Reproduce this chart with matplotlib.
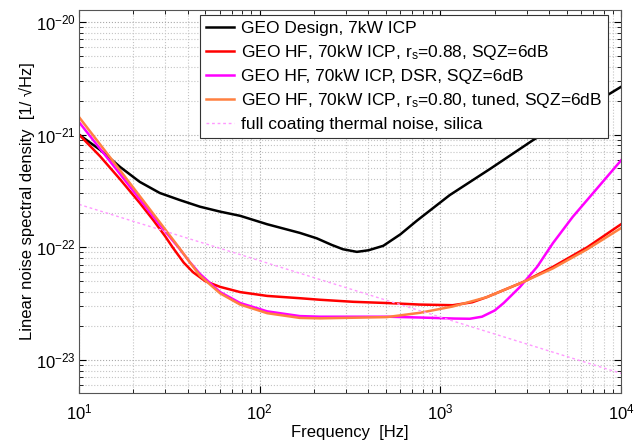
import matplotlib
matplotlib.use("Agg")
from matplotlib import pyplot as plt
from matplotlib import ticker
import numpy as np

plt.rcParams['font.family'] = ['Liberation Sans', 'DejaVu Sans']
plt.rcParams['mathtext.fontset'] = 'custom'
plt.rcParams['mathtext.rm'] = 'Liberation Sans'
plt.rcParams['mathtext.it'] = 'Liberation Sans:italic'

# GEO Design, 7kW ICP
f_geo = [10, 13.1, 16.9, 21.7, 28, 36.2, 46.7, 60.4, 78, 110, 167, 207, 250, 289, 345, 400, 483,
         600, 741, 1126, 1900, 3250, 10000]
h_geo = [1.0e-21, 7.3e-22, 5.15e-22, 3.8e-22, 3.03e-22, 2.62e-22, 2.29e-22, 2.07e-22, 1.9e-22,
         1.6e-22, 1.34e-22, 1.2e-22, 1.05e-22, 9.6e-23, 9.1e-23, 9.4e-23, 1.03e-22,
         1.3e-22, 1.72e-22, 2.9e-22, 5.0e-22, 8.9e-22, 2.65e-21]

# GEO HF, rs=0.88
f_r88 = [10, 13.1, 16.9, 21.7, 25.7, 30, 33.1, 38, 42.8, 50, 60.4, 78, 110, 167, 216, 330, 505,
         770, 1170, 1500, 1800, 2860, 4200, 6500, 10000]
h_r88 = [1.0e-21, 6.4e-22, 4.0e-22, 2.47e-22, 1.75e-22, 1.25e-22, 9.9e-23, 7.3e-23, 6.0e-23,
         5.0e-23, 4.45e-23, 4.0e-23, 3.7e-23, 3.53e-23, 3.42e-23, 3.28e-23, 3.2e-23, 3.1e-23,
         3.06e-23, 3.25e-23, 3.6e-23, 4.9e-23, 6.7e-23, 1.0e-22, 1.6e-22]

# GEO HF, DSR
f_dsr = [10, 16.9, 27.4, 36, 41, 46.7, 60.4, 78, 110, 167, 216, 505, 770, 1200, 1455, 1700, 2000,
         2240, 2760, 3430, 4200, 5400, 10000]
h_dsr = [1.29e-21, 4.45e-22, 1.65e-22, 9.7e-23, 7.4e-23, 5.8e-23, 4.0e-23, 3.2e-23, 2.7e-23,
         2.45e-23, 2.42e-23, 2.42e-23, 2.38e-23, 2.33e-23, 2.32e-23, 2.42e-23, 2.75e-23,
         3.2e-23, 4.45e-23, 6.7e-23, 1.09e-22, 1.86e-22, 5.9e-22]

# GEO HF, rs=0.80, tuned
f_r80 = [10, 16.9, 27.4, 36, 41.2, 46.7, 60.4, 78, 110, 167, 216, 505, 770, 1170, 1800, 2860,
         4200, 6500, 10000]
h_r80 = [1.43e-21, 4.8e-22, 1.74e-22, 9.8e-23, 7.3e-23, 5.6e-23, 3.9e-23, 3.1e-23, 2.6e-23,
         2.36e-23, 2.34e-23, 2.4e-23, 2.62e-23, 2.98e-23, 3.6e-23, 4.9e-23, 6.5e-23, 9.6e-23,
         1.48e-22]

# coating thermal noise
f_ctn = [10, 100, 1000, 10000]
h_ctn = [2.4e-22, 7.6e-23, 2.4e-23, 7.6e-24]

labels = ['GEO Design, 7kW ICP',
          r'GEO HF, 70kW ICP, r$_\mathrm{s}$=0.88, SQZ=6dB',
          'GEO HF, 70kW ICP, DSR, SQZ=6dB',
          r'GEO HF, 70kW ICP, r$_\mathrm{s}$=0.80, tuned, SQZ=6dB',
          'full coating thermal noise, silica']

fig = plt.figure(figsize=(6.37, 4.40), dpi=100)
ax = fig.add_axes([0.124, 0.107, 0.851, 0.870])

lw = 1.8
ax.loglog(f_geo, h_geo, color='black', lw=lw, label=labels[0])
ax.loglog(f_r88, h_r88, color='#ff0000', lw=lw, label=labels[1])
ax.loglog(f_dsr, h_dsr, color='#ff00ff', lw=lw, label=labels[2])
ax.loglog(f_r80, h_r80, color='#ff8040', lw=lw, label=labels[3])
ax.loglog(f_ctn, h_ctn, color='#ff99ff', lw=1.0, linestyle=(0, (2, 2)), label=labels[4])

ax.set_xlim(10, 1e4)
ax.set_ylim(5.1e-24, 1.27e-20)
ax.set_xticks([10, 100, 1000, 10000])
ax.set_yticks([1e-23, 1e-22, 1e-21, 1e-20])
ax.xaxis.set_minor_formatter(ticker.NullFormatter())
ax.yaxis.set_minor_formatter(ticker.NullFormatter())

ax.grid(True, which='major', color='#a8a8a8', linestyle=':', lw=0.8)
ax.grid(True, which='minor', color='#c4c4c4', linestyle=':', lw=0.8)
ax.tick_params(which='both', direction='in', top=True, right=True, labelsize=12)
ax.tick_params(which='major', length=5)
ax.tick_params(which='minor', length=3)
ax.tick_params(axis='x', pad=7)
ax.tick_params(axis='y', pad=2)
for s in ax.spines.values():
    s.set_color('#555555')

ax.set_xlabel('Frequency  [Hz]', fontsize=12, labelpad=2)
ax.set_ylabel('Linear noise spectral density  [1/ \u221aHz]', fontsize=12, labelpad=1)

leg = ax.legend(loc='upper right', bbox_to_anchor=(0.976, 0.987), fontsize=12.5,
                fancybox=False, edgecolor='#333333', framealpha=1, borderaxespad=0,
                handlelength=1.6, handletextpad=0.4, labelspacing=0.4, borderpad=0.35)
leg.get_frame().set_linewidth(0.8)

fig.savefig('out.png', dpi=100)
